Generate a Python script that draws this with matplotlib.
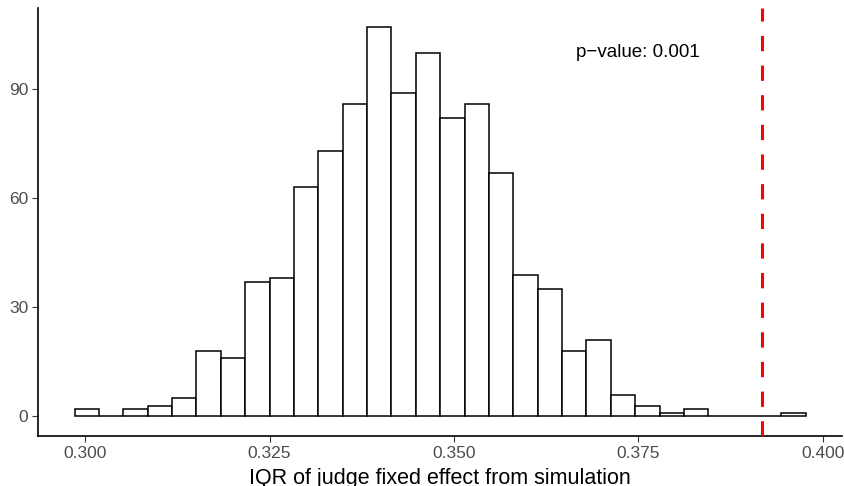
import numpy as np
import matplotlib
matplotlib.use("Agg")
import matplotlib.pyplot as plt

plt.rcParams['font.family'] = ['Liberation Sans', 'DejaVu Sans']

# histogram of simulated IQRs (30 bins)
bin_start = 0.29855
bin_width = 0.003305
counts = [2, 0, 2, 3, 5, 18, 16, 37, 38, 63, 73, 86, 107, 89, 100,
          82, 86, 67, 39, 35, 18, 21, 6, 3, 1, 2, 0, 0, 0, 1]
observed_iqr = 0.3917
p_value = 0.001
x_ticks = [0.300, 0.325, 0.350, 0.375, 0.400]
y_ticks = [0, 30, 60, 90]

edges = bin_start + bin_width * np.arange(len(counts) + 1)

fig = plt.figure(figsize=(8.44, 4.86), dpi=100)
ax = fig.add_axes([0.045, 0.103, 0.953, 0.881])

ax.bar(edges[:-1], counts, width=bin_width, align='edge',
       facecolor='white', edgecolor='black', linewidth=1.1, zorder=2)

ax.axvline(observed_iqr, color='#FF0000', linewidth=2.2,
           linestyle=(0, (5, 4.7)), zorder=3)

ax.text(0.375, 100, f"p\u2212value: {p_value}", fontsize=13.5,
        ha='center', va='center', color='black')

# ggplot-style 5% expansion
x_span = edges[-1] - edges[0]
ax.set_xlim(edges[0] - 0.05 * x_span, edges[-1] + 0.05 * x_span)
y_max = max(counts)
ax.set_ylim(-0.05 * y_max, y_max * 1.05)

ax.set_xticks(x_ticks)
ax.set_xticklabels([f"{t:.3f}" for t in x_ticks])
ax.set_yticks(y_ticks)
ax.tick_params(axis='both', length=4, width=0.8, color='#333333',
               labelcolor='#4D4D4D', labelsize=12.5, pad=3)

ax.set_xlabel("IQR of judge fixed effect from simulation", fontsize=15.5,
              labelpad=5)

for side in ['top', 'right']:
    ax.spines[side].set_visible(False)
for side in ['left', 'bottom']:
    ax.spines[side].set_linewidth(1.2)

fig.savefig("out.png", dpi=100)
